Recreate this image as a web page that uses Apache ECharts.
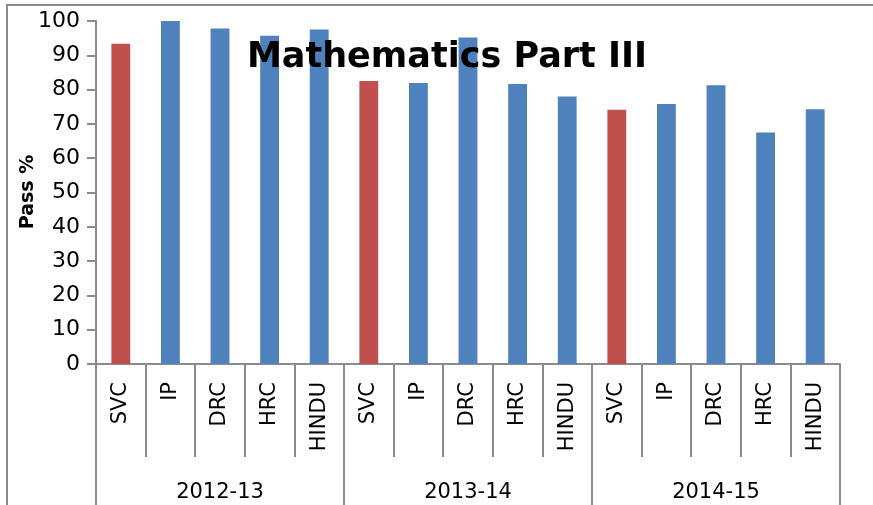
<!DOCTYPE html>
<html>
<head>
<meta charset="utf-8">
<script src="https://cdn.jsdelivr.net/npm/echarts@6/dist/echarts.min.js"></script>
<style>
  html, body { margin: 0; padding: 0; background: #fff; }
  #frame { position: absolute; left: 0; top: 0; width: 873px; height: 505px; }
  #edge { position: absolute; left: 6px; top: 4px; right: 0; bottom: 0; border-top: 2px solid #8c8c8c; border-left: 2px solid #8c8c8c; pointer-events: none; }
  #chart { position: absolute; left: 0; top: 0; width: 873px; height: 505px; }
</style>
</head>
<body>
<div id="frame">
  <div id="edge"></div>
  <div id="chart"></div>
</div>
<script>
// 数据
const years = ['2012-13', '2013-14', '2014-15']
const colleges = ['SVC', 'IP', 'DRC', 'HRC', 'HINDU']
const pass2012 = [93.4, 100, 97.8, 95.7, 97.5]
const pass2013 = [82.5, 81.9, 95.2, 81.6, 78.0]
const pass2014 = [74.1, 75.8, 81.3, 67.5, 74.3]
const yTicks = { min: 0, max: 100, step: 10 }
const yName = 'Pass %'
const highlightCollege = 'SVC'

const categories = years.flatMap(() => colleges)
const values = [].concat(pass2012, pass2013, pass2014)

const red = '#C0504D'
const blue = '#4F81BD'
const gray = '#8c8c8c'
const font = 'DejaVu Sans'

const chart = echarts.init(document.getElementById('chart'))

chart.setOption({
  animation: false,
  title: {
    text: 'Mathematics Part III',
    left: 242,
    top: 35,
    textStyle: { fontFamily: font, fontSize: 35, fontWeight: 'bold', color: '#000' }
  },
  // 纵轴标题（与刻度标签重叠，和原图一致）
  graphic: [{
    type: 'text',
    x: 28,
    y: 192,
    rotation: Math.PI / 2,
    style: {
      text: yName,
      align: 'center',
      verticalAlign: 'middle',
      fontFamily: font,
      fontSize: 19,
      fontWeight: 'bold',
      fill: '#000'
    }
  }],
  grid: { left: 96, right: 33, top: 21, bottom: 141 },
  xAxis: [
    {
      type: 'category',
      data: categories,
      position: 'bottom',
      axisLine: { lineStyle: { color: gray, width: 2 } },
      axisTick: { show: true, interval: 0, length: 93, lineStyle: { color: gray, width: 2 } },
      axisLabel: {
        interval: 0, rotate: 90, margin: 18,
        fontFamily: font, fontSize: 21, color: '#000'
      }
    },
    {
      type: 'category',
      data: years,
      position: 'bottom',
      axisLine: { show: false },
      axisTick: { show: true, interval: 0, length: 150, lineStyle: { color: gray, width: 2 } },
      axisLabel: { interval: 0, margin: 118, fontFamily: font, fontSize: 21, color: '#000' }
    }
  ],
  yAxis: {
    type: 'value',
    min: yTicks.min,
    max: yTicks.max,
    interval: yTicks.step,
    axisLine: { show: true, lineStyle: { color: gray, width: 2 } },
    axisTick: { show: true, length: 9, lineStyle: { color: gray, width: 2 } },
    axisLabel: { margin: 16, fontFamily: font, fontSize: 22, color: '#000' },
    splitLine: { show: false }
  },
  series: [{
    type: 'bar',
    xAxisIndex: 0,
    barCategoryGap: '62%',
    data: values.map((v, i) => ({
      value: v,
      itemStyle: { color: categories[i] === highlightCollege ? red : blue }
    }))
  }]
})
</script>
</body>
</html>
